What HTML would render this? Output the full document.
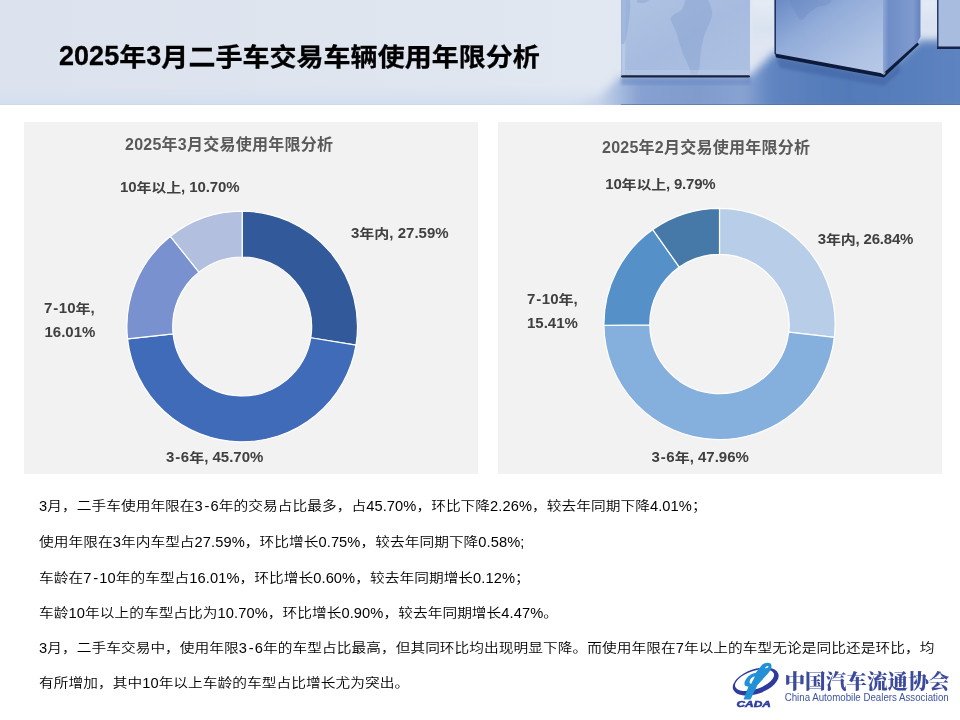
<!DOCTYPE html>
<html><head><meta charset="utf-8">
<style>
html,body{margin:0;padding:0;}
body{width:960px;height:720px;position:relative;overflow:hidden;background:#fff;font-family:"Liberation Sans","Noto Sans CJK SC",sans-serif;}
.abs{position:absolute;white-space:nowrap;}
#hdr{position:absolute;left:0;top:0;width:960px;height:105px;}
#title{left:59px;top:38px;letter-spacing:0.04px;font-size:27px;font-weight:bold;color:#000;line-height:36px;-webkit-text-stroke:0.3px #000;}
#title .c{display:inline-block;transform:translateY(1.4px) scaleY(0.935);}
.panel{position:absolute;background:#f2f2f2;}
.ct{font-size:16px;font-weight:bold;color:#595959;line-height:20px;letter-spacing:0.25px;}
.lb .k{display:inline-block;transform:translateY(0.6px) scaleY(0.86);}
.lb{font-size:15px;font-weight:bold;color:#404040;line-height:18px;}
.tx .k{display:inline-block;transform:scaleY(0.88);}
.tx .h{padding:0 1.1px 0 1.7px;}
.lb .h{padding:0 0.6px 0 0.9px;}
.tx{font-size:14.67px;font-weight:350;letter-spacing:0.08px;color:#000;line-height:18px;}
</style></head><body>
<svg id="hdr" width="960" height="105" viewBox="0 0 960 105">
<defs>
<linearGradient id="bgG" x1="0" y1="0" x2="1" y2="0">
<stop offset="0" stop-color="#dde3ee"/><stop offset="0.5" stop-color="#e0e6f0"/><stop offset="0.6" stop-color="#e2e8f2"/><stop offset="1" stop-color="#dde5f1"/>
</linearGradient>
<linearGradient id="floorG" gradientUnits="userSpaceOnUse" x1="560" y1="0" x2="960" y2="0">
<stop offset="0" stop-color="#d8e0ee"/><stop offset="0.1" stop-color="#c6d3e9"/><stop offset="0.155" stop-color="#a2b8dd"/><stop offset="0.2" stop-color="#86a1d1"/><stop offset="0.35" stop-color="#7f9ccd"/><stop offset="0.46" stop-color="#88a3d2"/><stop offset="0.53" stop-color="#5f84c0"/><stop offset="0.72" stop-color="#527ab8"/><stop offset="1" stop-color="#5d83c0"/>
</linearGradient>
<linearGradient id="c1G" x1="0" y1="0" x2="1" y2="1">
<stop offset="0" stop-color="#b0c3e3"/><stop offset="0.5" stop-color="#a6bbdf"/><stop offset="1" stop-color="#adc1e2"/>
</linearGradient>
<linearGradient id="c2G" x1="0" y1="0" x2="1" y2="1">
<stop offset="0" stop-color="#6a8ac5"/><stop offset="0.35" stop-color="#92acd9"/><stop offset="0.8" stop-color="#b0c3e4"/><stop offset="1" stop-color="#b7c9e7"/>
</linearGradient>
<linearGradient id="c2sG" x1="0" y1="0" x2="1" y2="0">
<stop offset="0" stop-color="#8ea7d5"/><stop offset="0.15" stop-color="#6f8dc7"/><stop offset="0.8" stop-color="#7f9ace"/><stop offset="1" stop-color="#6384bf"/>
</linearGradient>
<linearGradient id="gapG" x1="0" y1="0" x2="0" y2="1">
<stop offset="0" stop-color="#e6ecf5"/><stop offset="0.6" stop-color="#d9e2f0"/><stop offset="1" stop-color="#d9e2f0" stop-opacity="0"/>
</linearGradient>
<filter id="bl4" x="-20%" y="-50%" width="140%" height="200%"><feGaussianBlur stdDeviation="4"/></filter>
<filter id="bl2"><feGaussianBlur stdDeviation="1.5"/></filter>
<filter id="bl1"><feGaussianBlur stdDeviation="0.7"/></filter>
</defs>
<rect width="960" height="105" fill="url(#bgG)"/>
<linearGradient id="btG" x1="0" y1="0" x2="0" y2="1"><stop offset="0" stop-color="#d3dfef" stop-opacity="0"/><stop offset="1" stop-color="#d3dfef" stop-opacity="1"/></linearGradient>
<rect x="0" y="86" width="620" height="18" fill="url(#btG)"/>
<rect x="0" y="104" width="621" height="1" fill="#d2d8e2"/>
<path d="M560,112 L600,96 L621,76 L750,76 L775,52 L883,72 L920,40 L960,40 L975,40 L975,112 Z" fill="url(#floorG)" filter="url(#bl4)"/>
<rect x="752" y="0" width="22" height="46" fill="url(#gapG)" filter="url(#bl2)"/>
<rect x="922" y="0" width="14" height="40" fill="url(#gapG)" filter="url(#bl2)"/>
<path d="M776,57 L883,77 L900,62 L900,72 L884,86 L780,68 Z" fill="#3f62a2" opacity="0.55" filter="url(#bl2)"/>
<rect x="621" y="0" width="129" height="76.5" fill="url(#c1G)"/>
<path d="M622,0 L626,0 L625,76 L622,76 Z" fill="#bccce7" opacity="0.8"/>
<path d="M685,0 L708,0 C711,5 713,12 712,16 C709,26 705,32 704,37 C702,44 701,50 701,52 C700,58 700,63 699.6,66 C699,70 698,73 697,74.5 L691,74.5 C690,70 689,67 688,65.6 C686,60 683,55 682,51 C680,45 678,40 677.7,36.5 C676,30 672,24 670.4,19 C672,15 676,13 679,12 C683,10 684,5 685,0 Z" fill="#8aa5d2" opacity="0.5" filter="url(#bl1)"/>
<path d="M621,0 L630,0 C631,10 629,20 628,28 C627,35 626,40 624,44 L621,44 Z" fill="#8fa9d4" opacity="0.55" filter="url(#bl1)"/><path d="M637,0 L649,0 C647,3 641,4 637,2 Z" fill="#8fa9d4" opacity="0.6"/><rect x="622" y="70" width="127" height="5" fill="#bccbe7" opacity="0.5" filter="url(#bl1)"/>
<rect x="621" y="104" width="339" height="1" fill="#4f6a9c" opacity="0.6"/>
<rect x="621" y="77" width="130" height="8" fill="#6686c2" opacity="0.55" filter="url(#bl2)"/><path d="M622.5,75.3 L748.5,75.3 Q750,75.3 750,76.5 Q750,77.6 748.5,77.6 L622.5,77.6 Q621,77.6 621,76.5 Q621,75.3 622.5,75.3 Z" fill="#17223f" filter="url(#bl1)"/>
<path d="M774.5,0 L883,0 L883,74 L774.5,54 Z" fill="url(#c2G)"/>
<path d="M883,0 L920.5,0 L920.5,37 L917,43 L883,74 Z" fill="url(#c2sG)"/>
<path d="M790,0 L832,0 C830,4 826,6 822,6 C816,7 812,10 808,14 C805,17 803,21 800,20 C797,18 796,12 793,8 C791,5 790,3 790,0 Z" fill="#6686c2" opacity="0.3" filter="url(#bl1)"/>
<path d="M774.5,0 L776,0 L776,54 L774.5,54 Z" fill="#22335f" filter="url(#bl1)"/>
<path d="M775,53.5 L883,73.5 L917.5,42.5 L919,44.5 L884,77.5 L776,57.5 Z" fill="#101c3c" filter="url(#bl1)"/>
<path d="M880,72.5 L886,72.5 L884,75 Z" fill="#c8d6ee" opacity="0.8"/>
<rect x="937" y="0" width="23" height="48" fill="#a8bce0"/>
<rect x="937" y="0" width="1.5" height="48" fill="#2a3b68" filter="url(#bl1)"/>
<rect x="937" y="46.5" width="23" height="2.5" fill="#14204a" filter="url(#bl1)"/>
</svg>
<div id="title" class="abs">2025<span class="c">年</span>3<span class="c">月二手车交易车辆使用年限分析</span></div>

<div class="panel" style="left:24px;top:122px;width:454px;height:352px;"></div>
<div class="panel" style="left:498px;top:122px;width:444px;height:352px;"></div>
<svg class="abs" style="left:0;top:0" width="960" height="720" viewBox="0 0 960 720">
<path d="M242.20,211.20A115.3,115.3 0 0 1 355.98,345.18L310.78,337.76A69.5,69.5 0 0 0 242.20,257.00Z" fill="#325A9A" stroke="#ffffff" stroke-width="1.2" stroke-linejoin="round"/>
<path d="M355.98,345.18A115.3,115.3 0 0 1 127.56,338.86L173.10,333.95A69.5,69.5 0 0 0 310.78,337.76Z" fill="#3F6BB8" stroke="#ffffff" stroke-width="1.2" stroke-linejoin="round"/>
<path d="M127.56,338.86A115.3,115.3 0 0 1 170.39,236.29L198.92,272.12A69.5,69.5 0 0 0 173.10,333.95Z" fill="#7991CE" stroke="#ffffff" stroke-width="1.2" stroke-linejoin="round"/>
<path d="M170.39,236.29A115.3,115.3 0 0 1 242.20,211.20L242.20,257.00A69.5,69.5 0 0 0 198.92,272.12Z" fill="#B3BFDF" stroke="#ffffff" stroke-width="1.2" stroke-linejoin="round"/>

<path d="M719.50,208.40A115.6,115.6 0 0 1 834.33,337.33L788.73,332.04A69.7,69.7 0 0 0 719.50,254.30Z" fill="#B8CDE8" stroke="#ffffff" stroke-width="1.2" stroke-linejoin="round"/>
<path d="M834.33,337.33A115.6,115.6 0 0 1 603.91,325.45L649.81,324.88A69.7,69.7 0 0 0 788.73,332.04Z" fill="#85AFDC" stroke="#ffffff" stroke-width="1.2" stroke-linejoin="round"/>
<path d="M603.91,325.45A115.6,115.6 0 0 1 652.79,229.59L679.28,267.08A69.7,69.7 0 0 0 649.81,324.88Z" fill="#5591C8" stroke="#ffffff" stroke-width="1.2" stroke-linejoin="round"/>
<path d="M652.79,229.59A115.6,115.6 0 0 1 719.50,208.40L719.50,254.30A69.7,69.7 0 0 0 679.28,267.08Z" fill="#4779A8" stroke="#ffffff" stroke-width="1.2" stroke-linejoin="round"/>

</svg>
<div class="abs ct" style="left:125px;top:135px;">2025年3月交易使用年限分析</div>
<div class="abs ct" style="left:602px;top:138px;">2025年2月交易使用年限分析</div>

<div class="abs lb" style="left:120px;top:178px;letter-spacing:-0.12px;">10<span class="k">年以上</span>, 10.70%</div>
<div class="abs lb" style="left:351px;top:224px;">3<span class="k">年内</span>, 27.59%</div>
<div class="abs lb" style="left:44px;top:299px;">7<span class="h">-</span>10<span class="k">年</span>,</div>
<div class="abs lb" style="left:44.5px;top:323px;">16.01%</div>
<div class="abs lb" style="left:166px;top:448px;">3<span class="h">-</span>6<span class="k">年</span>, 45.70%</div>

<div class="abs lb" style="left:605.3px;top:175px;letter-spacing:-0.2px;">10<span class="k">年以上</span>, 9.79%</div>
<div class="abs lb" style="left:817.8px;top:230px;letter-spacing:-0.2px;">3<span class="k">年内</span>, 26.84%</div>
<div class="abs lb" style="left:527px;top:290px;">7<span class="h">-</span>10<span class="k">年</span>,</div>
<div class="abs lb" style="left:527px;top:314px;">15.41%</div>
<div class="abs lb" style="left:651.5px;top:448px;">3<span class="h">-</span>6<span class="k">年</span>, 47.96%</div>

<div class="abs tx" style="left:39px;top:496.8px;">3<span class="k">月，二手车使用年限在</span>3<span class="h">-</span>6<span class="k">年的交易占比最多，占</span>45.70%<span class="k">，环比下降</span>2.26%<span class="k">，较去年同期下降</span>4.01%<span class="k">；</span></div>
<div class="abs tx" style="left:39px;top:533px;"><span class="k">使用年限在</span>3<span class="k">年内车型占</span>27.59%<span class="k">，环比增长</span>0.75%<span class="k">，较去年同期下降</span>0.58%;</div>
<div class="abs tx" style="left:39px;top:569px;"><span class="k">车龄在</span>7<span class="h">-</span>10<span class="k">年的车型占</span>16.01%<span class="k">，环比增长</span>0.60%<span class="k">，较去年同期增长</span>0.12%<span class="k">；</span></div>
<div class="abs tx" style="left:39px;top:604px;"><span class="k">车龄</span>10<span class="k">年以上的车型占比为</span>10.70%<span class="k">，环比增长</span>0.90%<span class="k">，较去年同期增长</span>4.47%<span class="k">。</span></div>
<div class="abs tx" style="left:39px;top:639px;">3<span class="k">月，二手车交易中，使用年限</span>3<span class="h">-</span>6<span class="k">年的车型占比最高，但其同环比均出现明显下降。而使用年限在</span>7<span class="k">年以上的车型无论是同比还是环比，均</span></div>
<div class="abs tx" style="left:39px;top:674px;"><span class="k">有所增加，其中</span>10<span class="k">年以上车龄的车型占比增长尤为突出。</span></div>

<svg class="abs" style="left:720px;top:655px" width="240" height="60" viewBox="720 655 240 60">
<path fill="#2e3b9e" fill-rule="evenodd" transform="rotate(-19 755.7 681.5)" d="M731.8,681.5 a23.9,12.3 0 1,0 47.8,0 a23.9,12.3 0 1,0 -47.8,0 Z M734.6,679.9 a20.4,9.1 0 1,0 40.8,0 a20.4,9.1 0 1,0 -40.8,0 Z"/>
<path fill="#2290d4" d="M743.5,699.5 L748.5,686.5 C745,687 743.5,684.5 745,681 C747,676.5 751.5,673.5 755.5,673 L761.5,665.5 C764,662.5 768.5,662 770.5,663.5 C772.5,665.5 771.5,669.5 768,673.5 L757.5,685 L750.5,699.5 Z M751.2,683.8 L755,676.2 C752,677 749.8,679.3 749.6,681.4 C749.5,682.9 750.2,683.7 751.2,683.8 Z"/>
<path fill="#ffffff" d="M765,668 C766,666 768,665.5 768.6,666.2 C768,667.6 766.5,668.6 765,668 Z"/>
<text x="736.5" y="706.6" font-family="'Liberation Sans', sans-serif" font-weight="bold" font-style="italic" font-size="8.2" fill="#2e3b9e" stroke="#2e3b9e" stroke-width="0.5" textLength="34.3" lengthAdjust="spacingAndGlyphs">CADA</text>
<text x="784.5" y="689" font-family="'Liberation Serif', 'Noto Serif CJK SC', serif" font-weight="900" font-size="20.6" fill="#3b4a9c" textLength="165" lengthAdjust="spacingAndGlyphs">中国汽车流通协会</text>
<text x="784.7" y="700.6" font-family="'Liberation Sans', sans-serif" font-size="10.6" fill="#3d52a0" textLength="164" lengthAdjust="spacingAndGlyphs">China Automobile Dealers Association</text>
</svg>
</body></html>
